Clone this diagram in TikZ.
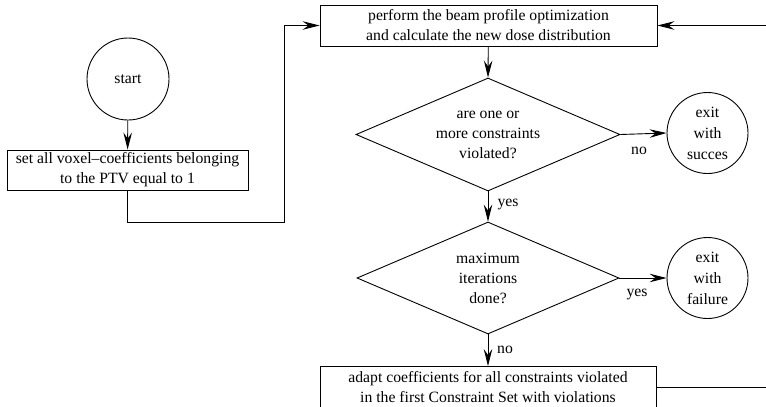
\documentclass[tikz,border=0pt]{standalone}
\usepackage{fontspec}
\setmainfont{Liberation Serif}
\usetikzlibrary{shapes.geometric,arrows.meta}
\begin{document}
\begin{tikzpicture}[x=1pt,y=-1pt,
  every node/.style={font=\fontsize{15.7}{20}\selectfont, inner sep=0pt},
  lin/.style={line width=0.9pt},
  arr/.style={lin,-{Stealth[length=17pt,width=8.5pt,inset=6pt]}},
  boxnode/.style={draw,lin,rectangle,align=center},
  circnode/.style={draw,lin,circle,align=center},
  dia/.style={draw,lin,diamond,inner sep=0pt},
  lbl/.style={font=\fontsize{15.7}{20}\selectfont}
]
\useasboundingbox (0,0) rectangle (766,407);

\node[boxnode,minimum width=337pt,minimum height=41pt] (top) at (488.5,25.5)
  {perform the beam profile optimization\\and calculate the new dose distribution};
\node[circnode,minimum size=82pt] (start) at (128,79) {start};
\node[boxnode,minimum width=241pt,minimum height=40pt] (voxel) at (127.5,170)
  {set all voxel–coefficients belonging\\to the PTV equal to 1};
\node[dia,minimum width=264pt,minimum height=113pt] (d1) at (488,134.5) {};
\node[align=center] (d1t) at (d1.center) {are one or\\more constraints\\violated?};
\node[circnode,minimum size=81pt,font=\fontsize{15.7}{21}\selectfont] (succ) at (707.5,133)
  {exit\\with\\succes};
\node[dia,minimum width=262pt,minimum height=112pt] (d2) at (488,278) {};
\node[align=center] (d2t) at (d2.center) {maximum\\iterations\\done?};
\node[circnode,minimum size=81pt,font=\fontsize{15.7}{21}\selectfont] (fail) at (707.5,278)
  {exit\\with\\failure};
\node[boxnode,minimum width=336pt,minimum height=41pt] (adapt) at (488,387)
  {adapt coefficients for all constraints violated\\in the first Constraint Set with violations};

\coordinate (c1) at (284,222);
\coordinate (r1) at (780,387);

\draw[arr] (start) -- (voxel);
\draw[arr] (voxel.south) |- (c1) |- (top.west);
\draw[arr] (top) -- (d1.north);
\draw[arr] (d1.east) -- (succ.west);
\draw[arr] (d1.south) -- (d2.north);
\draw[arr] (d2.east) -- (fail.west);
\draw[arr] (d2.south) -- (adapt.north);
\draw[arr] (adapt.east) -- (r1) |- (top.east);

\node[lbl] (lno1) at (639,151) {no};
\node[lbl] (lyes1) at (508,204) {yes};
\node[lbl] (lyes2) at (637,294) {yes};
\node[lbl] (lno2) at (505,350) {no};
\end{tikzpicture}
\end{document}
